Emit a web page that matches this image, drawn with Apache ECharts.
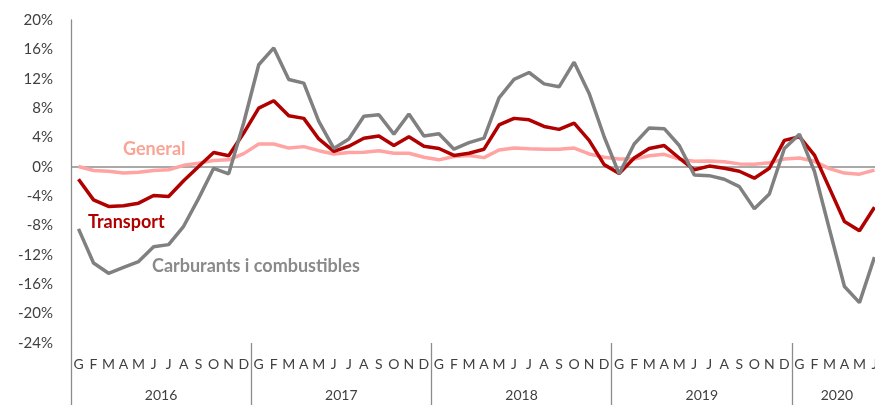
<!DOCTYPE html>
<html>
<head>
<meta charset="utf-8">
<script src="https://cdn.jsdelivr.net/npm/echarts@6/dist/echarts.min.js"></script>
<style>html,body{margin:0;padding:0;background:#fff;overflow:hidden;width:875px;height:405px}#c{width:885px;height:405px}</style>
</head>
<body>
<div id="c"></div>
<script>
const monthLetters = ['G','F','M','A','M','J','J','A','S','O','N','D'];
const years = ['2016','2017','2018','2019','2020'];
const monthsPerYear = [12,12,12,12,6];
const yTicks = {min:-24, max:20, interval:4};

const general = [0.05,-0.5,-0.6,-0.85,-0.75,-0.5,-0.4,0.2,0.5,0.85,0.95,1.8,
 3.1,3.1,2.55,2.75,2.2,1.75,1.95,2.0,2.2,1.85,1.85,1.3,
 0.95,1.4,1.55,1.25,2.3,2.55,2.45,2.4,2.4,2.55,1.75,1.3,
 1.05,1.05,1.5,1.7,1.05,0.75,0.8,0.7,0.4,0.35,0.55,1.05,
 1.2,0.75,-0.25,-0.85,-1.0,-0.45];
const transport = [-1.7,-4.5,-5.4,-5.3,-4.95,-3.9,-4.05,-1.9,0.05,1.95,1.5,4.6,
 8.0,9.0,6.95,6.6,3.8,2.1,2.8,3.9,4.2,2.9,4.1,2.8,
 2.5,1.55,1.85,2.4,5.7,6.6,6.4,5.5,5.1,5.95,3.6,0.3,
 -0.9,1.2,2.5,2.9,1.2,-0.4,0.1,-0.2,-0.6,-1.55,-0.2,3.6,
 4.1,1.6,-2.9,-7.45,-8.7,-5.5];
const carburants = [-8.45,-13.1,-14.5,-13.7,-12.9,-10.9,-10.6,-8.1,-4.3,-0.2,-0.95,6.0,
 13.9,16.2,11.9,11.4,6.2,2.5,3.8,6.9,7.1,4.45,7.2,4.2,
 4.5,2.4,3.3,3.9,9.4,11.9,12.85,11.3,10.9,14.25,10.0,4.1,
 -0.95,3.1,5.3,5.2,2.9,-1.1,-1.2,-1.7,-2.7,-5.7,-3.7,2.5,
 4.45,-0.6,-8.5,-16.3,-18.5,-12.3];

// build categories
const categories = [];
const yearCenters = {};
let idx = 0;
years.forEach((y, k) => {
  const n = monthsPerYear[k];
  yearCenters[(idx + (n - 1) / 2).toFixed(1)] = y;
  for (let m = 0; m < n; m++) categories.push(monthLetters[m] + ' ' + y);
  idx += n;
});
const yearStarts = [];
{ let s = 0; monthsPerYear.forEach(n => { yearStarts.push(s); s += n; }); }

const chart = echarts.init(document.getElementById('c'), null, {renderer:'canvas'});
const txtFont = 'Lato, "Open Sans", sans-serif';
chart.setOption({
  animation: false,
  grid: {left: 71, top: 20, bottom: 62, right: 0, containLabel: false},
  xAxis: [{
    type: 'category', data: categories, boundaryGap: true, position: 'bottom',
    axisLine: {show: false, onZero: false},
    axisTick: {show: true, length: 62, interval: (i) => yearStarts.indexOf(i) >= 0,
      lineStyle: {color: '#8c8c8c', width: 1.3}},
    axisLabel: {interval: 0, margin: 14, color: '#404040', fontSize: 14, fontFamily: txtFont,
      formatter: (v) => v.split(' ')[0]},
    splitLine: {show: false}
  }, {
    type: 'value', min: -0.5, max: categories.length - 0.5, interval: 1, position: 'bottom',
    axisLine: {show: false, onZero: false}, axisTick: {show: false}, splitLine: {show: false},
    axisLabel: {margin: 45, color: '#404040', fontSize: 14, fontFamily: txtFont,
      showMinLabel: true, showMaxLabel: true,
      formatter: (v) => yearCenters[Number(v).toFixed(1)] || ''}
  }],
  yAxis: {
    type: 'value', min: yTicks.min, max: yTicks.max, interval: yTicks.interval,
    axisLine: {show: true, onZero: false, lineStyle: {color: '#8c8c8c', width: 1.3}},
    axisTick: {show: false}, splitLine: {show: false},
    axisLabel: {margin: 18, color: '#404040', fontSize: 15, fontFamily: txtFont, formatter: '{value}%'}
  },
  series: [{
    name: 'General', type: 'line', data: general, symbol: 'none', xAxisIndex: 0,
    lineStyle: {color: '#ffa3a3', width: 3.5}, z: 2,
    markLine: {silent: true, symbol: ['none','none'], label: {show: false},
      lineStyle: {color: '#8c8c8c', width: 1.5, type: 'solid'}, data: [{yAxis: 0}], z: 1}
  }, {
    name: 'Transport', type: 'line', data: transport, symbol: 'none', xAxisIndex: 0,
    lineStyle: {color: '#b00000', width: 3.5}, z: 3
  }, {
    name: 'Carburants i combustibles', type: 'line', data: carburants, symbol: 'none', xAxisIndex: 0,
    lineStyle: {color: '#808080', width: 3.5}, z: 4
  }],
  graphic: [
    {type: 'text', left: 123, top: 140, style: {text: 'General', fill: '#f9a596', font: 'bold 18px ' + txtFont}},
    {type: 'text', left: 88, top: 213, style: {text: 'Transport', fill: '#b00000', font: 'bold 18px ' + txtFont}},
    {type: 'text', left: 152, top: 257, style: {text: 'Carburants i combustibles', fill: '#8a8a8a', font: 'bold 18px ' + txtFont}}
  ]
});
</script>
</body>
</html>
